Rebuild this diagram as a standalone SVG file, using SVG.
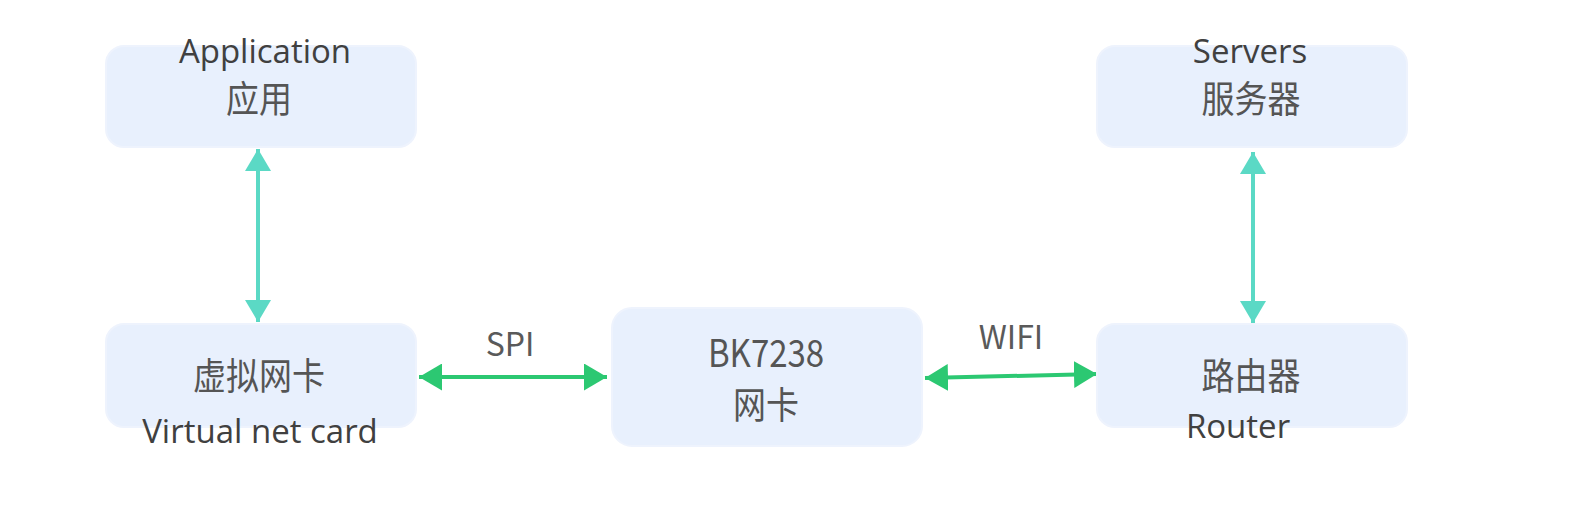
<svg xmlns="http://www.w3.org/2000/svg" width="1572" height="528" viewBox="0 0 1572 528">
<style>
.box{fill:#e8f0fd;stroke:#eef3fd;stroke-width:2}
.en{font-family:"Open Sans","Liberation Sans",sans-serif;font-size:33px;fill:#404040;text-anchor:middle}
.zh{font-family:"Noto Sans CJK SC","Noto Sans",sans-serif;font-size:33px;fill:#555;text-anchor:middle}
.lbl{font-family:"Noto Sans CJK SC","Noto Sans",sans-serif;font-size:32px;fill:#5a5a5a;text-anchor:middle}
.teal{stroke:#5bd9c5;stroke-width:4;fill:none}
.green{stroke:#2cc872;stroke-width:4;fill:none}
</style>
<defs>
<marker id="ht" viewBox="0 0 22 26" refX="22" refY="13" markerWidth="22" markerHeight="26" markerUnits="userSpaceOnUse" orient="auto-start-reverse">
<path d="M0,0 L22,13 L0,26 Z" fill="#5bd9c5"/>
</marker>
<marker id="hg" viewBox="0 0 23 27" refX="23" refY="13.5" markerWidth="23" markerHeight="27" markerUnits="userSpaceOnUse" orient="auto-start-reverse">
<path d="M0,0 L23,13.5 L0,27 Z" fill="#2cc872"/>
</marker>
</defs>
<rect width="1572" height="528" fill="#ffffff"/>
<g id="connectors">
<line class="teal" x1="258" y1="149" x2="258" y2="322" marker-start="url(#ht)" marker-end="url(#ht)"/>
<line class="teal" x1="1253" y1="152" x2="1253" y2="323" marker-start="url(#ht)" marker-end="url(#ht)"/>
<line class="green" x1="419" y1="377" x2="607" y2="377" marker-start="url(#hg)" marker-end="url(#hg)"/>
<line class="green" x1="925" y1="378" x2="1097" y2="374" marker-start="url(#hg)" marker-end="url(#hg)"/>
<text class="lbl" x="510" y="356">SPI</text>
<text class="lbl" x="1011" y="349">WIFI</text>
</g>
<g id="node-app">
<rect class="box" x="106" y="46" width="310" height="101" rx="18"/>
<text class="en" x="265" y="63">Application</text>
<text class="zh" transform="translate(259,113) scale(1,1.12)">应用</text>
</g>
<g id="node-servers">
<rect class="box" x="1097" y="46" width="310" height="101" rx="18"/>
<text class="en" x="1250" y="63">Servers</text>
<text class="zh" transform="translate(1251,113) scale(1,1.12)">服务器</text>
</g>
<g id="node-vnic">
<rect class="box" x="106" y="324" width="310" height="103" rx="18"/>
<text class="zh" transform="translate(259,390) scale(1,1.12)">虚拟网卡</text>
<text class="en" x="260" y="443">Virtual net card</text>
</g>
<g id="node-bk7238">
<rect class="box" x="612" y="308" width="310" height="138" rx="20"/>
<text class="zh" transform="translate(766,367) scale(1,1.15)">BK7238</text>
<text class="zh" transform="translate(766,419) scale(1,1.12)">网卡</text>
</g>
<g id="node-router">
<rect class="box" x="1097" y="324" width="310" height="103" rx="18"/>
<text class="zh" transform="translate(1251,390) scale(1,1.12)">路由器</text>
<text class="en" x="1238" y="438">Router</text>
</g>
</svg>
